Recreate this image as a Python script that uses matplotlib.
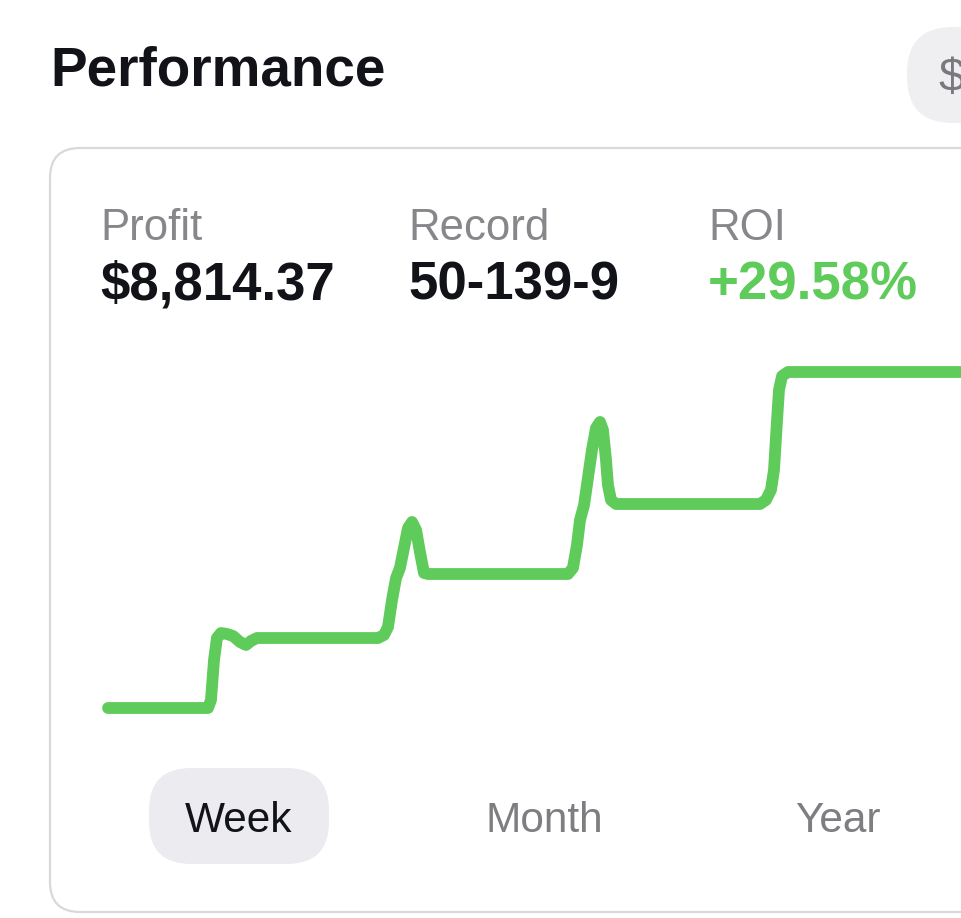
import matplotlib
matplotlib.use("Agg")
import matplotlib.pyplot as plt
from matplotlib.patches import FancyBboxPatch

W, H = 962, 918

# cumulative profit over the week (days, dollars)
days = [0.0, 0.820, 0.844, 0.869, 0.893, 0.926, 0.975, 1.025, 1.082, 1.131,
        1.172, 1.221, 1.328, 2.213, 2.262, 2.295, 2.328, 2.361, 2.393, 2.426,
        2.459, 2.492, 2.525, 2.557, 2.590, 2.623, 2.689, 3.770, 3.811, 3.844,
        3.869, 3.902, 3.934, 3.967, 4.000, 4.033, 4.057, 4.082, 4.098, 4.123,
        4.164, 5.344, 5.393, 5.434, 5.459, 5.484, 5.500, 5.525, 5.574, 7.0]
profit = [0, 0, 210, 1259, 1836, 1967, 1941, 1889, 1731, 1653,
          1758, 1836, 1836, 1836, 1915, 2125, 2833, 3410, 3673, 4197,
          4722, 4879, 4669, 4092, 3541, 3515, 3515, 3515, 3673, 4276,
          4932, 5325, 6034, 6768, 7345, 7503, 7293, 6506, 5850, 5456,
          5351, 5351, 5456, 5718, 6243, 7555, 8346, 8709, 8814, 8814]

stat_labels = ["Profit", "Record", "ROI"]
stat_values = ["$8,814.37", "50-139-9", "+29.58%"]
periods = ["Week", "Month", "Year"]
selected = "Week"

GREEN = "#5ecb5a"
INK = "#121318"
GREY = "#87878b"
FONT = "Liberation Sans"

fig = plt.figure(figsize=(W / 100, H / 100), dpi=100)
fig.patch.set_facecolor("white")

# background layer in pixel coordinates for the card chrome
bg = fig.add_axes([0, 0, 1, 1])
bg.set_xlim(0, W)
bg.set_ylim(H, 0)
bg.axis("off")

bg.add_patch(FancyBboxPatch((50, 148), 960, 764,
                            boxstyle="round,pad=0,rounding_size=30",
                            fc="white", ec="#d9d9db", lw=1.6))
bg.add_patch(FancyBboxPatch((907, 27), 140, 96,
                            boxstyle="round,pad=0,rounding_size=46",
                            fc="#efeff2", ec="none"))
bg.text(938, 91, "$", fontsize=34, color="#7a7a7e", family=FONT,
        va="baseline")

bg.text(50, 85, "Performance", fontsize=39.5, fontweight="bold", color=INK,
        family=FONT, va="baseline")

for x, lab, val in zip([100, 408, 708], stat_labels, stat_values):
    bg.text(x, 240, lab, fontsize=31.5, color=GREY, family=FONT,
            va="baseline")
    bg.text(x, 300, val, fontsize=38, fontweight="bold",
            color=GREEN if val.startswith("+") else INK,
            family=FONT, va="baseline")

for cx, name in zip([239, 544, 838], periods):
    if name == selected:
        bg.add_patch(FancyBboxPatch((149, 768), 180, 96,
                                    boxstyle="round,pad=0,rounding_size=42",
                                    fc="#ececf0", ec="none"))
    bg.text(cx, 832, name, fontsize=30.5,
            color=INK if name == selected else "#7e7e82",
            family=FONT, ha="center", va="baseline")

# the profit line
ax = fig.add_axes([108 / W, (H - 708) / H, 854 / W, 336 / H])
ax.patch.set_alpha(0)
ax.axis("off")
ax.set_xlim(0, 7)
ax.set_ylim(0, 8814)
ax.plot(days, profit, color=GREEN, lw=8.5, solid_capstyle="round",
        solid_joinstyle="round", clip_on=False)

fig.savefig("out.png", dpi=100)
